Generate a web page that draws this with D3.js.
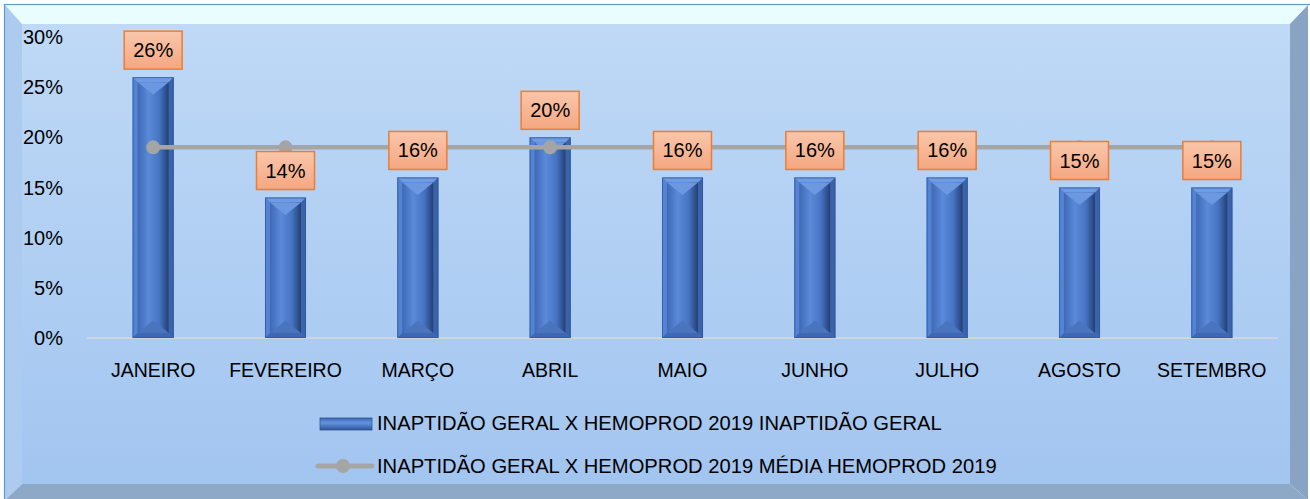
<!DOCTYPE html>
<html>
<head>
<meta charset="UTF-8">
<title>Inaptidão Geral x Hemoprod 2019</title>
<script src="https://d3js.org/d3.v7.min.js"></script>
<style>
  body { margin: 0; background: #ffffff; }
  svg { display: block; font-family: "Liberation Sans", Arial, sans-serif; }
  .tick-label { font-size: 20px; fill: #000; }
  .cat-label { font-size: 19.5px; fill: #000; }
  .legend-text { font-size: 20.2px; fill: #000; }
  .data-label { font-size: 20px; fill: #000; }
</style>
</head>
<body>
<script>
// chart data
const months = ['JANEIRO', 'FEVEREIRO', 'MARÇO', 'ABRIL', 'MAIO', 'JUNHO', 'JULHO', 'AGOSTO', 'SETEMBRO'];
const inaptidaoGeral = [0.26, 0.14, 0.16, 0.20, 0.16, 0.16, 0.16, 0.15, 0.15];
const mediaHemoprod = [0.19, 0.19, 0.19, 0.19, 0.19, 0.19, 0.19, 0.19, 0.19];
const yTicks = [0, 0.05, 0.10, 0.15, 0.20, 0.25, 0.30];
const legendLabels = [
  'INAPTIDÃO GERAL X HEMOPROD 2019 INAPTIDÃO GERAL',
  'INAPTIDÃO GERAL X HEMOPROD 2019 MÉDIA HEMOPROD 2019'
];

const W = 1310, H = 499;
const svg = d3.select('body').append('svg')
  .attr('width', W)
  .attr('height', H);

const defs = svg.append('defs');

// background gradient
const bg = defs.append('linearGradient').attr('id', 'bgGrad')
  .attr('x1', 0).attr('y1', 0).attr('x2', 0).attr('y2', 1);
bg.append('stop').attr('offset', '0%').attr('stop-color', '#bfd9f6');
bg.append('stop').attr('offset', '100%').attr('stop-color', '#a2c5f0');

// bar inner panel gradient
const barGrad = defs.append('linearGradient').attr('id', 'barGrad')
  .attr('x1', 0).attr('y1', 0).attr('x2', 1).attr('y2', 0);
barGrad.append('stop').attr('offset', '0%').attr('stop-color', '#3f69b5');
barGrad.append('stop').attr('offset', '35%').attr('stop-color', '#5a8ad9');
barGrad.append('stop').attr('offset', '70%').attr('stop-color', '#4674c3');
barGrad.append('stop').attr('offset', '100%').attr('stop-color', '#243f73');

// label box gradient
const lblGrad = defs.append('linearGradient').attr('id', 'lblGrad')
  .attr('x1', 0).attr('y1', 0).attr('x2', 0).attr('y2', 1);
lblGrad.append('stop').attr('offset', '0%').attr('stop-color', '#f9c6ab');
lblGrad.append('stop').attr('offset', '100%').attr('stop-color', '#f5a781');

// legend swatch gradient
const lgGrad = defs.append('linearGradient').attr('id', 'lgGrad')
  .attr('x1', 0).attr('y1', 0).attr('x2', 0).attr('y2', 1);
lgGrad.append('stop').attr('offset', '0%').attr('stop-color', '#3d66ae');
lgGrad.append('stop').attr('offset', '40%').attr('stop-color', '#6394e3');
lgGrad.append('stop').attr('offset', '100%').attr('stop-color', '#2f5597');

// frame with bevel
const fx0 = 5, fy0 = 5, fx1 = 1308, fy1 = 500;
const ix0 = 22, iy0 = 24, ix1 = 1290, iy1 = 484;
svg.append('rect')
  .attr('x', ix0).attr('y', iy0)
  .attr('width', ix1 - ix0).attr('height', iy1 - iy0)
  .attr('fill', 'url(#bgGrad)');
svg.append('polygon')
  .attr('points', [[fx0, fy0], [fx1, fy0], [ix1, iy0], [ix0, iy0]].join(' '))
  .attr('fill', '#e9fdff');
svg.append('polygon')
  .attr('points', [[fx0, fy0], [ix0, iy0], [ix0, iy1], [fx0, fy1]].join(' '))
  .attr('fill', '#adcbee');
svg.append('polygon')
  .attr('points', [[fx1, fy0], [fx1, fy1], [ix1, iy1], [ix1, iy0]].join(' '))
  .attr('fill', '#88a3c3');
svg.append('polygon')
  .attr('points', [[fx0, fy1], [ix0, iy1], [ix1, iy1], [fx1, fy1]].join(' '))
  .attr('fill', '#8da9c7');
svg.append('rect')
  .attr('x', 4.5).attr('y', 4.5)
  .attr('width', 1310).attr('height', 500)
  .attr('fill', 'none')
  .attr('stroke', '#5b9bd5')
  .attr('stroke-width', 1.2);

// scales
const x = d3.scaleBand().domain(months).range([87, 1278]).padding(0);
const y = d3.scaleLinear().domain([0, 0.30]).range([338, 37]);
const fmt = d3.format('.0%');

// y axis labels
svg.append('g')
  .selectAll('text')
  .data(yTicks)
  .join('text')
  .attr('class', 'tick-label')
  .attr('x', 63)
  .attr('y', d => y(d))
  .attr('dy', '0.35em')
  .attr('text-anchor', 'end')
  .text(d => fmt(d));

// baseline
svg.append('line')
  .attr('x1', 87).attr('x2', 1278)
  .attr('y1', y(0)).attr('y2', y(0))
  .attr('stroke', '#d9d9d9')
  .attr('stroke-width', 1.5);

// category labels
svg.append('g')
  .selectAll('text')
  .data(months)
  .join('text')
  .attr('class', 'cat-label')
  .attr('x', d => x(d) + x.bandwidth() / 2)
  .attr('y', 370)
  .attr('dy', '0.35em')
  .attr('text-anchor', 'middle')
  .text(d => d);

// bevelled bars
const barW = x.bandwidth() * 0.31;
const b = 5;
const bars = svg.append('g')
  .selectAll('g')
  .data(months.map((m, i) => ({ m, v: inaptidaoGeral[i] })))
  .join('g')
  .each(function (d) {
    const g = d3.select(this);
    const x0 = x(d.m) + (x.bandwidth() - barW) / 2;
    const x1 = x0 + barW;
    const y0 = y(d.v), y1 = y(0);
    const pts = p => p.map(q => q.join(',')).join(' ');
    g.append('rect')
      .attr('x', x0).attr('y', y0)
      .attr('width', barW).attr('height', y1 - y0)
      .attr('fill', '#4a78c9');
    // top bevel
    g.append('polygon').attr('points', pts([[x0, y0], [x1, y0], [x1 - b, y0 + b], [x0 + b, y0 + b]]))
      .attr('fill', '#6f9be2');
    // left bevel
    g.append('polygon').attr('points', pts([[x0, y0], [x0 + b, y0 + b], [x0 + b, y1 - b], [x0, y1]]))
      .attr('fill', '#5483d3');
    // right bevel
    g.append('polygon').attr('points', pts([[x1, y0], [x1, y1], [x1 - b, y1 - b], [x1 - b, y0 + b]]))
      .attr('fill', '#3b63aa');
    // bottom bevel
    g.append('polygon').attr('points', pts([[x0, y1], [x0 + b, y1 - b], [x1 - b, y1 - b], [x1, y1]]))
      .attr('fill', '#3e68b3');
    // inner panel
    g.append('rect')
      .attr('x', x0 + b).attr('y', y0 + b)
      .attr('width', barW - 2 * b).attr('height', y1 - y0 - 2 * b)
      .attr('fill', 'url(#barGrad)');
    const iw = barW - 2 * b;
    const th = Math.min(iw * 0.4, (y1 - y0 - 2 * b) / 2);
    g.append('polygon').attr('points', pts([[x0 + b, y0 + b], [x1 - b, y0 + b], [x0 + barW / 2, y0 + b + th]]))
      .attr('fill', '#6c98e2');
    g.append('polygon').attr('points', pts([[x0 + b, y1 - b], [x1 - b, y1 - b], [x0 + barW / 2, y1 - b - th]]))
      .attr('fill', '#4a74bd');
    g.append('rect')
      .attr('x', x0 + 0.5).attr('y', y0 + 0.5)
      .attr('width', barW - 1).attr('height', y1 - y0 - 1)
      .attr('fill', 'none')
      .attr('stroke', '#2f5597')
      .attr('stroke-width', 1)
      .attr('stroke-opacity', 0.7);
  });

// average line
const cx = d => x(d) + x.bandwidth() / 2;
const line = d3.line()
  .x((d, i) => cx(months[i]))
  .y(d => y(d));
svg.append('path')
  .datum(mediaHemoprod)
  .attr('d', line)
  .attr('fill', 'none')
  .attr('stroke', '#a5a5a5')
  .attr('stroke-width', 4.5);
svg.append('g')
  .selectAll('circle')
  .data(mediaHemoprod)
  .join('circle')
  .attr('cx', (d, i) => cx(months[i]))
  .attr('cy', d => y(d))
  .attr('r', 7)
  .attr('fill', '#a5a5a5');

// data labels
const boxW = 58, boxH = 38;
const lbl = svg.append('g')
  .selectAll('g')
  .data(months.map((m, i) => ({ m, v: inaptidaoGeral[i] })))
  .join('g')
  .attr('transform', d => `translate(${cx(d.m)},${y(d.v) - 8 - boxH / 2})`);
lbl.append('rect')
  .attr('x', -boxW / 2).attr('y', -boxH / 2)
  .attr('width', boxW).attr('height', boxH)
  .attr('fill', 'url(#lblGrad)')
  .attr('stroke', '#ed7d31')
  .attr('stroke-width', 1.5);
lbl.append('text')
  .attr('class', 'data-label')
  .attr('text-anchor', 'middle')
  .attr('dy', '0.35em')
  .text(d => fmt(d.v));

// legend
const lg = svg.append('g');
lg.append('rect')
  .attr('x', 320).attr('y', 418)
  .attr('width', 52).attr('height', 12)
  .attr('fill', 'url(#lgGrad)')
  .attr('stroke', '#2f5597')
  .attr('stroke-width', 0.8);
lg.append('line')
  .attr('x1', 318).attr('x2', 372)
  .attr('y1', 466).attr('y2', 466)
  .attr('stroke', '#a5a5a5')
  .attr('stroke-width', 5)
  .attr('stroke-linecap', 'round');
lg.append('circle')
  .attr('cx', 343).attr('cy', 466).attr('r', 7)
  .attr('fill', '#a5a5a5');
lg.selectAll('text')
  .data(legendLabels)
  .join('text')
  .attr('class', 'legend-text')
  .attr('x', 377)
  .attr('y', (d, i) => 423 + i * 43)
  .attr('dy', '0.35em')
  .text(d => d);
</script>
</body>
</html>
